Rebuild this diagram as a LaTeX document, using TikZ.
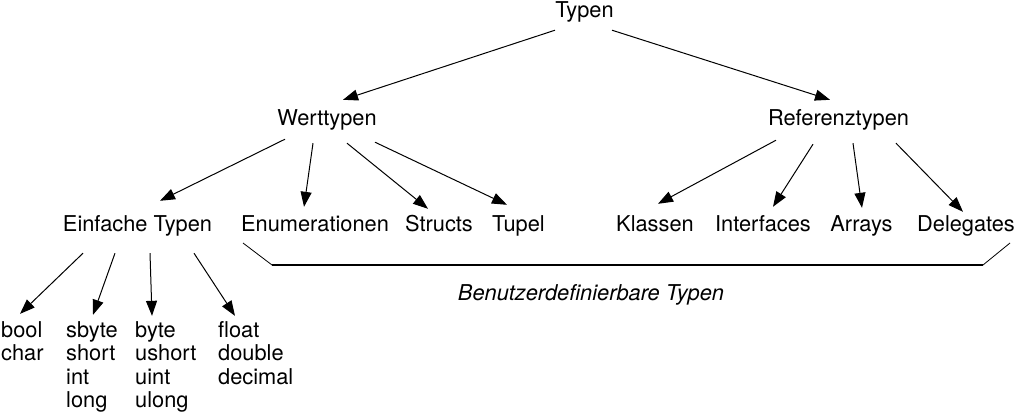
\documentclass[tikz,border=0pt]{standalone}
\usepackage{fontspec}
\setmainfont{TeX Gyre Heros}
\usetikzlibrary{arrows.meta}
\begin{document}
\begin{tikzpicture}[x=1pt,y=-1pt,
  every node/.style={inner sep=0pt,font=\fontsize{21.8}{23.5}\selectfont},
  lbl/.style={anchor=base,text height=15pt,text depth=4.5pt},
  lst/.style={anchor=base west},
  arr/.style={line width=1pt,-{Triangle[length=15pt,width=11pt]}},
  brk/.style={line width=0.8pt},
  brkmain/.style={line width=1.8pt}]
\useasboundingbox (0,0) rectangle (1017,415);
% nodes
\node[lbl] (typen) at (584.5,17) {Typen};
\node[lbl] (wert) at (327,125) {Werttypen};
\node[lbl] (ref) at (838.5,125) {Referenztypen};
\node[lbl] (einf) at (137.5,231) {Einfache Typen};
\node[lbl] (enum) at (315,231) {Enumerationen};
\node[lbl] (struct) at (439,231) {Structs};
\node[lbl] (tupel) at (518.5,231) {Tupel};
\node[lbl] (klassen) at (655,231) {Klassen};
\node[lbl] (interf) at (763,231) {Interfaces};
\node[lbl] (arrays) at (861.5,231) {Arrays};
\node[lbl] (deleg) at (966,231) {Delegates};
\node[lst] (l1) at (1,337) {\begin{tabular}[t]{@{}l@{}}bool\\char\end{tabular}};
\node[lst] (l2) at (66,337) {\begin{tabular}[t]{@{}l@{}}sbyte\\short\\int\\long\end{tabular}};
\node[lst] (l3) at (135,337) {\begin{tabular}[t]{@{}l@{}}byte\\ushort\\uint\\ulong\end{tabular}};
\node[lst] (l4) at (218,337) {\begin{tabular}[t]{@{}l@{}}float\\double\\decimal\end{tabular}};
\node[anchor=base] (benutzer) at (591,300) {\itshape Benutzerdefinierbare Typen};
% arrows from Typen
\draw[arr] ([shift={(-29.5,8.5)}]typen.south) -- ([shift={(16,-10)}]wert.north);
\draw[arr] ([shift={(27.5,8.5)}]typen.south) -- ([shift={(-8.5,-10)}]ref.north);
% arrows from Werttypen
\draw[arr] ([shift={(-42,9.5)}]wert.south) -- ([shift={(22.5,-15)}]einf.north);
\draw[arr] ([shift={(-14,13.5)}]wert.south) -- ([shift={(-11,-9)}]enum.north);
\draw[arr] ([shift={(20,13.5)}]wert.south) -- ([shift={(-11,-7)}]struct.north);
\draw[arr] ([shift={(48,12.5)}]wert.south) -- ([shift={(-11.5,-11)}]tupel.north);
% arrows from Referenztypen
\draw[arr] ([shift={(-62.5,10.5)}]ref.south) -- ([shift={(3,-12)}]klassen.north);
\draw[arr] ([shift={(-25.5,14.5)}]ref.south) -- ([shift={(10,-9)}]interf.north);
\draw[arr] ([shift={(14.5,13.5)}]ref.south) -- ([shift={(0.5,-8)}]arrays.north);
\draw[arr] ([shift={(57.5,13.5)}]ref.south) -- ([shift={(-3,-4)}]deleg.north);
% arrows from Einfache Typen
\draw[arr] ([shift={(-54.5,17.5)}]einf.south) -- ([shift={(19,-6.5)}]l1.north west);
\draw[arr] ([shift={(-22.5,17.5)}]einf.south) -- ([shift={(27,-5.5)}]l2.north west);
\draw[arr] ([shift={(12.5,17.5)}]einf.south) -- ([shift={(17,-4.5)}]l3.north west);
\draw[arr] ([shift={(56.5,17.5)}]einf.south) -- ([shift={(17,-4.5)}]l4.north west);
% bracket
\draw[brk] (243,243) -- (272,265);
\draw[brk] (983,265) -- (1010,243);
\draw[brkmain] (272,265) -- (983,265);
\end{tikzpicture}
\end{document}
